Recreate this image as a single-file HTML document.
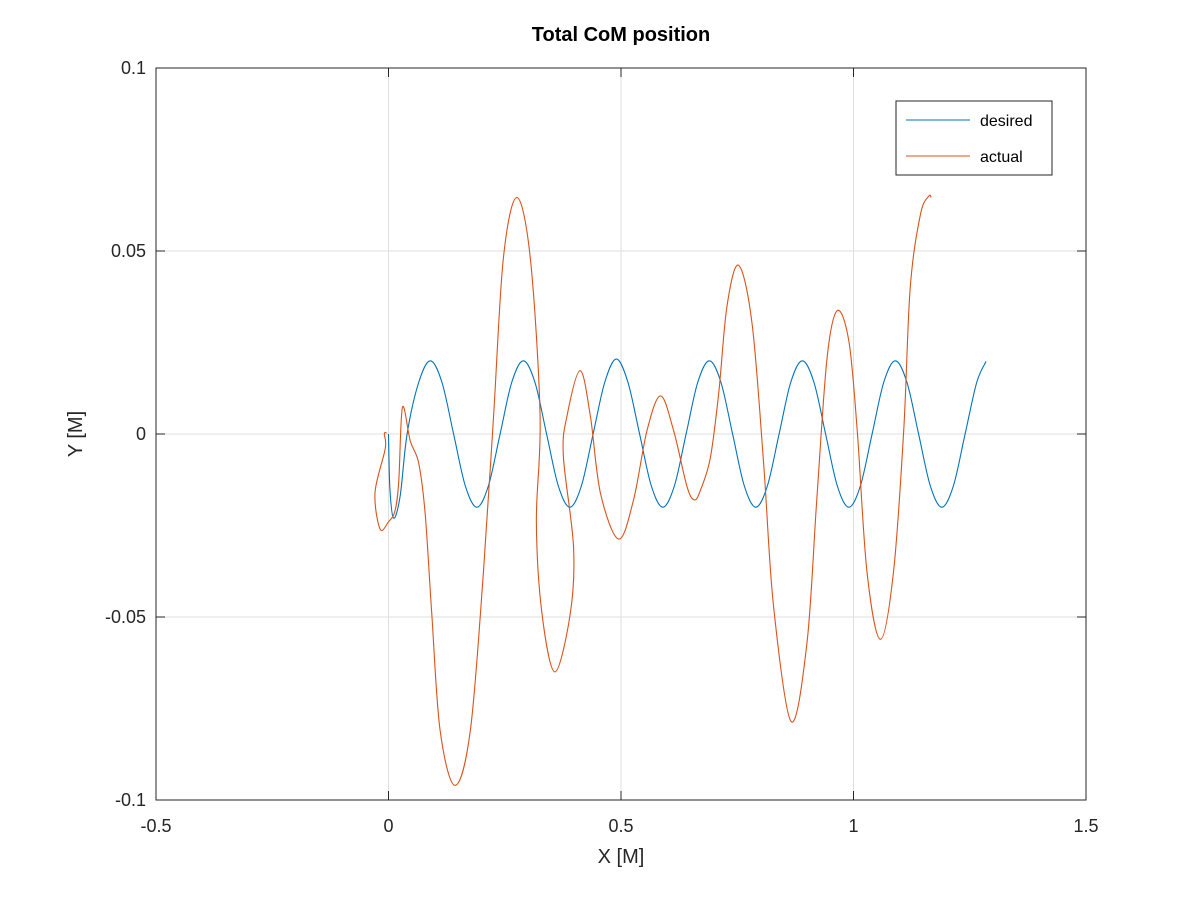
<!DOCTYPE html>
<html><head><meta charset="utf-8"><style>
body{margin:0;background:#fff;}
svg{display:block;font-family:"Liberation Sans",sans-serif;}
</style></head><body>
<svg id="chart" width="1200" height="900">
<rect x="0" y="0" width="1200" height="900" fill="#fff"/>
<text x="621" y="41" text-anchor="middle" font-size="20" font-weight="bold" fill="#000">Total CoM position</text>
<g id="grid"></g>
<g id="series"></g>
<rect x="156" y="68" width="930" height="732" fill="none" stroke="#262626" stroke-width="1"/>
<g id="ticks"></g>
<text x="621" y="863" text-anchor="middle" font-size="20" fill="#262626">X [M]</text>
<text transform="translate(82,434) rotate(-90)" text-anchor="middle" font-size="20" fill="#262626">Y [M]</text>
<g>
<rect x="896" y="101" width="156" height="74" fill="#fff" stroke="#262626" stroke-width="1"/>
<line x1="906" y1="120" x2="970" y2="120" stroke="#0072BD" stroke-width="1"/>
<text x="980" y="126" font-size="16" fill="#000">desired</text>
<line x1="906" y1="156" x2="970" y2="156" stroke="#D95319" stroke-width="1"/>
<text x="980" y="162" font-size="16" fill="#000">actual</text>
</g>
</svg>
<script>
const xTicks=[-0.5,0,0.5,1,1.5];
const xTickLabels=["-0.5","0","0.5","1","1.5"];
const yTicks=[-0.1,-0.05,0,0.05,0.1];
const yTickLabels=["-0.1","-0.05","0","0.05","0.1"];
const desiredX=[0.0,0.003,0.011,0.025,0.04,0.065,0.09,0.115,0.14,0.165,0.19,0.215,0.24,0.265,0.29,0.315,0.34,0.365,0.39,0.415,0.44,0.465,0.49,0.515,0.54,0.565,0.59,0.615,0.64,0.665,0.69,0.715,0.74,0.765,0.79,0.815,0.84,0.865,0.89,0.915,0.94,0.965,0.99,1.015,1.04,1.065,1.09,1.115,1.14,1.165,1.19,1.215,1.24,1.265,1.285];
const desiredY=[0.0,-0.015,-0.023,-0.017,0,0.0141,0.02,0.0141,0,-0.0141,-0.02,-0.0141,0,0.0141,0.02,0.0141,0,-0.0141,-0.02,-0.0141,0,0.0141,0.0205,0.0141,0,-0.0141,-0.02,-0.0141,0,0.0141,0.02,0.0141,0,-0.0141,-0.02,-0.0141,0,0.0141,0.02,0.0141,0,-0.0141,-0.02,-0.0141,0,0.0141,0.02,0.0141,0,-0.0141,-0.02,-0.0141,0,0.0141,0.0198];
const actualX=[-0.004,-0.009,-0.007,-0.029,-0.018,0,0.014,0.022,0.030,0.047,0.065,0.079,0.093,0.111,0.143,0.176,0.204,0.226,0.247,0.276,0.305,0.326,0.318,0.330,0.358,0.391,0.398,0.376,0.384,0.412,0.434,0.456,0.495,0.527,0.556,0.585,0.613,0.642,0.658,0.671,0.692,0.710,0.728,0.753,0.782,0.807,0.828,0.866,0.900,0.921,0.943,0.965,0.990,1.008,1.029,1.058,1.086,1.108,1.122,1.144,1.162,1.167];
const actualY=[0.0003,0,-0.004,-0.016,-0.026,-0.024,-0.021,-0.013,0.0073,-0.002,-0.008,-0.022,-0.049,-0.081,-0.096,-0.081,-0.038,0.005,0.048,0.0646,0.048,0.005,-0.024,-0.049,-0.065,-0.049,-0.031,-0.006,0.005,0.0173,0.005,-0.0163,-0.0287,-0.018,0.001,0.0104,0.001,-0.0144,-0.018,-0.0153,-0.0066,0.011,0.035,0.0461,0.030,-0.0085,-0.047,-0.0786,-0.057,-0.018,0.0206,0.0337,0.0254,0.001,-0.0377,-0.0561,-0.0377,0.001,0.040,0.060,0.065,0.0646];

const NS="http://www.w3.org/2000/svg";
const X0=156,X1=1086,Y0=800,Y1=68;
const xScale=v=>X0+(v+0.5)/2*(X1-X0);
const yScale=v=>Y0-(v+0.1)/0.2*(Y0-Y1);
const grid=document.getElementById('grid'),ticks=document.getElementById('ticks'),series=document.getElementById('series');
function mk(tag,attrs,parent){const e=document.createElementNS(NS,tag);for(const k in attrs)e.setAttribute(k,attrs[k]);parent.appendChild(e);return e;}
xTicks.forEach((t,i)=>{const x=xScale(t);
 if(i>0&&i<xTicks.length-1){const g=mk('line',{x1:x,y1:Y1,x2:x,y2:Y0,stroke:'#dfdfdf','stroke-width':1},grid);
 
 }
 mk('line',{x1:x,y1:Y0,x2:x,y2:Y0-9,stroke:'#262626'},ticks);
 mk('line',{x1:x,y1:Y1,x2:x,y2:Y1+9,stroke:'#262626'},ticks);
 const tx=mk('text',{x:x,y:Y0+32,'text-anchor':'middle','font-size':18,fill:'#262626'},ticks);
 tx.textContent=xTickLabels[i];
 
 });
yTicks.forEach((t,i)=>{const y=yScale(t);
 if(i>0&&i<yTicks.length-1){const g=mk('line',{x1:X0,y1:y,x2:X1,y2:y,stroke:'#dfdfdf','stroke-width':1},grid);
 
 }
 mk('line',{x1:X0,y1:y,x2:X0+9,y2:y,stroke:'#262626'},ticks);
 mk('line',{x1:X1,y1:y,x2:X1-9,y2:y,stroke:'#262626'},ticks);
 const tx=mk('text',{x:X0-10,y:y+6,'text-anchor':'end','font-size':18,fill:'#262626'},ticks);
 tx.textContent=yTickLabels[i];
 
 });
function smooth(xs,ys){const p=xs.map((x,i)=>[xScale(x),yScale(ys[i])]);let d='M'+p[0][0]+','+p[0][1];
 for(let i=0;i<p.length-1;i++){const a=p[i-1]||p[i],b=p[i],c=p[i+1],e=p[i+2]||c;
 d+=' C'+(b[0]+(c[0]-a[0])/6)+','+(b[1]+(c[1]-a[1])/6)+' '+(c[0]-(e[0]-b[0])/6)+','+(c[1]-(e[1]-b[1])/6)+' '+c[0]+','+c[1];}
 return d;}
const dLine=mk('path',{d:smooth(desiredX,desiredY),fill:'none',stroke:'#0072BD','stroke-width':1.1},series);


const aLine=mk('path',{d:smooth(actualX,actualY),fill:'none',stroke:'#D95319','stroke-width':1.1},series);


</script>
</body></html>
